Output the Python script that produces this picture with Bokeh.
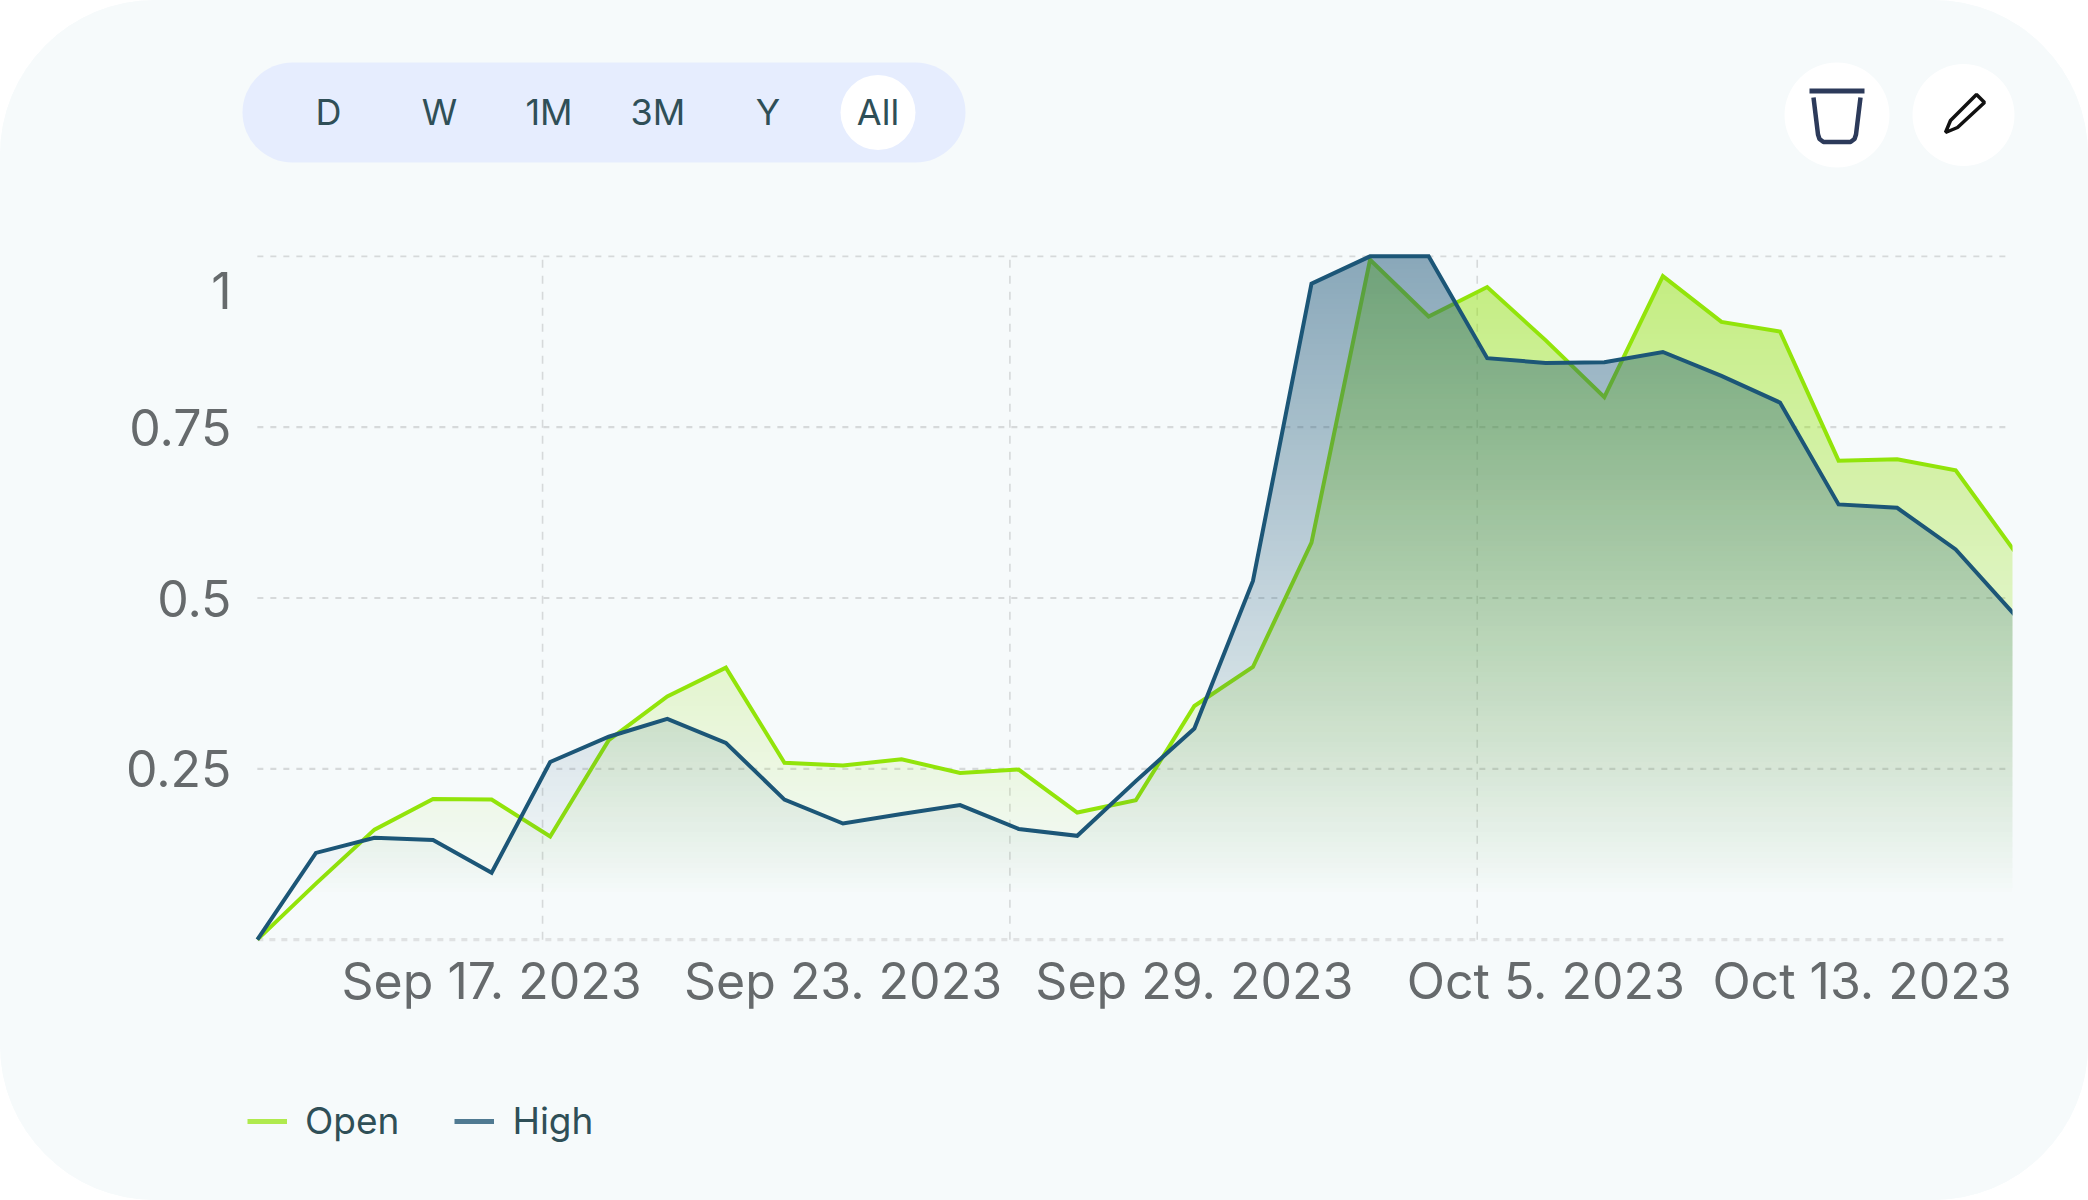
import numpy as np
from bokeh.plotting import figure
from bokeh.layouts import column
from bokeh.embed import file_html
from bokeh.resources import INLINE
from bokeh.core.properties import value
from bokeh.models import (Range1d, FixedTicker, LinearAxis, BoxAnnotation,
                          Legend, LegendItem, AllLabels)

dates = ["Sep 13", "Sep 14", "Sep 15", "Sep 16", "Sep 17", "Sep 18", "Sep 19", "Sep 20", "Sep 21", "Sep 22",
         "Sep 23", "Sep 24", "Sep 25", "Sep 26", "Sep 27", "Sep 28", "Sep 29", "Sep 30", "Oct 1", "Oct 2",
         "Oct 3", "Oct 4", "Oct 5", "Oct 6", "Oct 7", "Oct 8", "Oct 9", "Oct 10", "Oct 11", "Oct 12", "Oct 13"]
open_values = [0.0, 0.082, 0.161, 0.206, 0.205, 0.151, 0.292, 0.356, 0.398, 0.259, 0.255, 0.264, 0.244, 0.249,
               0.186, 0.204, 0.342, 0.399, 0.581, 0.995, 0.912, 0.955, 0.877, 0.794, 0.971, 0.904, 0.890,
               0.701, 0.703, 0.687, 0.569]
high_values = [0.0, 0.127, 0.149, 0.146, 0.098, 0.260, 0.297, 0.323, 0.288, 0.205, 0.170, 0.184, 0.197, 0.162,
               0.152, 0.232, 0.309, 0.525, 0.960, 1.0, 1.0, 0.851, 0.844, 0.845, 0.860, 0.825, 0.786,
               0.637, 0.632, 0.571, 0.476]
x_tick_positions = [4, 10, 16, 22, 27.4]
x_tick_labels = ["Sep 17. 2023", "Sep 23. 2023", "Sep 29. 2023", "Oct 5. 2023", "Oct 13. 2023"]
y_tick_positions = [0.25, 0.5, 0.75, 0.95]
y_tick_labels = ["0.25", "0.5", "0.75", "1"]
v_grid_positions = [4.87, 12.85, 20.83]
buttons = ["D", "W", "1M", "3M", "Y", "All"]
button_centers = [328, 439, 548.5, 657.5, 767.5, 877.5]

BG = "#f6fafb"
GREEN = "#92e40a"
BLUE = "#1c5677"
FONT = "Inter"
idx = np.arange(len(dates), dtype=float)

W = 2088
TOP_H, MAIN_H, BOTTOM_H = 249, 791, 160
RADIUS = 155


def band(height, y0, y1):
    f = figure(width=W, height=height, output_backend="svg", toolbar_location=None,
               x_range=Range1d(0, W), y_range=Range1d(y1, y0), x_axis_type=None, y_axis_type=None,
               min_border=0, background_fill_color=BG, border_fill_color=BG, outline_line_color=None,
               frame_align=False)
    f.xgrid.visible = False
    f.ygrid.visible = False
    return f


# ---- top band: range buttons and icons (data units are page pixels)
top = band(TOP_H, 0, TOP_H)
top.add_layout(BoxAnnotation(left=242, right=965, top=62, bottom=162, fill_color="#e6edfe", fill_alpha=1,
                             line_color=None, border_radius=50, level="underlay"))
top.circle(x=[877.5, 1836.5, 1963], y=[112, 114.5, 114.5], radius=[37.5, 52.5, 51], fill_color="#ffffff",
           line_color=None)
top.text(x=button_centers, y=[111] * len(buttons), text=buttons, text_align="center", text_baseline="middle",
         text_font=value(FONT), text_font_size="36px", text_color="#2f4f57")
top.quad(left=1809, right=1864, top=88, bottom=93, fill_color="#2c3a5a", line_color=None)
top.line(x=[1813, 1817.5, 1819, 1823, 1850, 1854, 1855.5, 1860], y=[97, 134, 138.5, 141.5, 141.5, 138.5, 134, 97],
         line_color="#2c3a5a", line_width=4.5, line_join="round")
top.patch(x=[1945, 1950, 1976, 1984, 1957], y=[132, 120, 94, 102, 127], fill_color="#ffffff",
          line_color="#111111", line_width=3.5)

# ---- main chart
p = figure(width=W, height=MAIN_H, output_backend="svg", toolbar_location=None,
           x_range=Range1d(-0.1, 29.97), y_range=Range1d(-0.01, 1.01),
           min_border_left=251, min_border_right=76, min_border_top=0, min_border_bottom=94,
           x_axis_type=None, y_axis_type=None, frame_align=False,
           background_fill_color=BG, border_fill_color=BG, outline_line_color=None)
p.xgrid.visible = False
p.ygrid.visible = False


def gradient_image(values, rgb, nx=1760, ny=690):
    xs = np.linspace(0, 30, nx)
    ys = np.linspace(0, 1, ny)
    tops = np.interp(xs, idx, values)
    dy = ys[1] - ys[0]
    Y, T = np.meshgrid(ys, tops, indexing="ij")
    coverage = np.clip((T - Y) / dy + 0.5, 0, 1)
    alpha = np.clip((Y - 0.06) / 0.94, 0, 1) * 0.5 * coverage
    img = np.zeros((ny, nx), dtype=np.uint32)
    view = img.view(dtype=np.uint8).reshape((ny, nx, 4))
    view[..., 0], view[..., 1], view[..., 2] = rgb
    view[..., 3] = (alpha * 255).astype(np.uint8)
    return img


GRID_END = 29.89
h_thin = [0.5, 1.0]
h_thick = [0.25, 0.75]
p.segment(x0=[0] * 2, x1=[GRID_END] * 2, y0=h_thin, y1=h_thin, line_color="#d6d9da", line_width=1.8,
          line_dash="6 7", level="underlay")
p.segment(x0=[0] * 2, x1=[GRID_END] * 2, y0=h_thick, y1=h_thick, line_color="#d6d9da", line_width=2.4,
          line_dash="6 7", level="underlay")
p.segment(x0=[0], x1=[GRID_END], y0=[0], y1=[0], line_color="#e0e2e3", line_width=3.4, line_dash="6 6",
          level="underlay")
p.segment(x0=v_grid_positions, x1=v_grid_positions, y0=[0] * 3, y1=[1] * 3, line_color="#d6d9da", line_width=1.6,
          line_dash="8 8", level="underlay")

p.image_rgba(image=[gradient_image(open_values, (0x8f, 0xe0, 0x00))], x=0, y=0, dw=30, dh=1)
p.line(idx, open_values, line_color=GREEN, line_width=4, line_join="miter")
p.image_rgba(image=[gradient_image(high_values, (0x1c, 0x56, 0x77))], x=0, y=0, dw=30, dh=1)
p.line(idx, high_values, line_color=BLUE, line_width=4, line_join="miter")

p.add_layout(LinearAxis(ticker=FixedTicker(ticks=x_tick_positions),
                        major_label_overrides=dict(zip(x_tick_positions, x_tick_labels)),
                        major_label_policy=AllLabels(), axis_line_color=None, major_tick_line_color=None,
                        minor_tick_line_color=None, major_label_text_font=FONT, major_label_text_font_size="50px",
                        major_label_text_color="#666a6c", major_label_standoff=-2), "below")
p.add_layout(LinearAxis(ticker=FixedTicker(ticks=y_tick_positions),
                        major_label_overrides=dict(zip(y_tick_positions, y_tick_labels)),
                        major_label_policy=AllLabels(), axis_line_color=None, major_tick_line_color=None,
                        minor_tick_line_color=None, major_label_text_font=FONT, major_label_text_font_size="50px",
                        major_label_text_color="#666a6c", major_label_standoff=14), "left")

# ---- bottom band: legend
y0 = TOP_H + MAIN_H
bottom = band(BOTTOM_H, y0, y0 + BOTTOM_H)
key_open = bottom.line([-20, -10], [y0, y0], line_color="#b0ea4e", line_width=5)
key_high = bottom.line([-20, -10], [y0, y0], line_color="#507a92", line_width=5)
bottom.add_layout(Legend(items=[LegendItem(label="Open", renderers=[key_open]),
                                LegendItem(label="High", renderers=[key_high])],
                         orientation="horizontal", location=(247, 57), padding=0, margin=0, spacing=55,
                         glyph_width=40, glyph_height=40, label_standoff=18, background_fill_alpha=0,
                         border_line_color=None, label_text_font=FONT, label_text_font_size="37px",
                         label_text_color="#2f4f57"))

page = column(top, p, bottom, spacing=0,
              styles={"border-radius": f"{RADIUS}px", "overflow": "hidden", "background-color": BG})
open("out.html", "w").write(file_html(page, INLINE))
